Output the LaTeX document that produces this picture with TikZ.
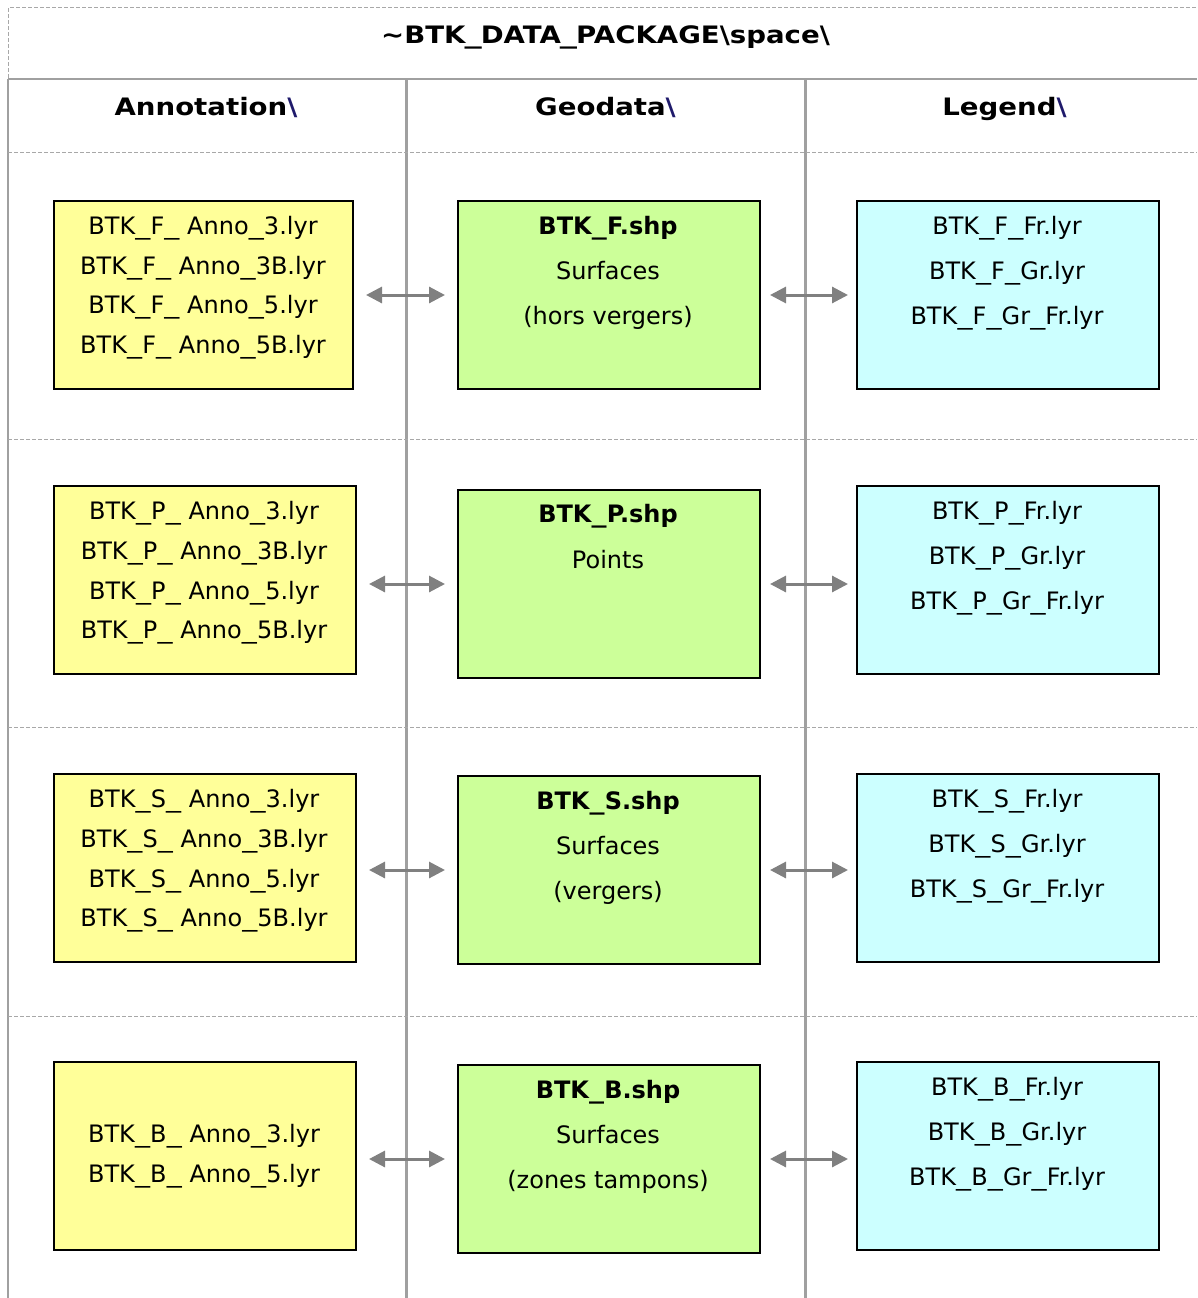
\documentclass[tikz,border=0pt]{standalone}
\usepackage{fontspec}
\setmainfont{DejaVu Sans}
\newfontfamily\hdrfont[FakeStretch=1.15]{DejaVu Sans}
\usetikzlibrary{arrows.meta,calc}

\definecolor{annofill}{HTML}{FFFF99}
\definecolor{geofill}{HTML}{CCFF99}
\definecolor{legfill}{HTML}{CCFFFF}
\definecolor{rulegray}{HTML}{A0A0A0}
\definecolor{dashgray}{HTML}{A8A8A8}
\definecolor{arrowgray}{HTML}{808080}
\definecolor{slashblue}{HTML}{1F1A6B}

% wide underscore and backslash helpers
\newcommand{\us}{\makebox[0.636em]{\scalebox{1.25}[1]{\_}}}
\newcommand{\bs}{\textbackslash}

\begin{document}
\begin{tikzpicture}[x=1pt,y=-1pt,
  font=\fontsize{24}{29}\selectfont,
  filebox/.style={draw=black,line width=2pt,inner sep=0pt,anchor=north west,
                  minimum width=302pt,minimum height=188pt},
  anno/.style={filebox,fill=annofill},
  geo/.style={filebox,fill=geofill},
  leg/.style={filebox,fill=legfill},
  txt/.style={inner sep=0pt,text height=17.5pt,text depth=0pt,anchor=center},
  hdr/.style={txt,font=\fontsize{24}{29}\hdrfont\bfseries},
  gridline/.style={draw=rulegray},
  dashline/.style={draw=dashgray,line width=1pt,dash pattern=on 4pt off 2pt},
  link/.style={draw=arrowgray,line width=3pt,
    {Triangle[length=16pt,width=16pt]}-{Triangle[length=16pt,width=16pt]}},
  linkL/.style={link,shorten <=12pt,shorten >=12pt},
  linkR/.style={link,shorten <=9pt,shorten >=8pt}]

\useasboundingbox (0,0) rectangle (1197,1298);

% table frame
\draw[dashline] (8,78) -- (8,8) -- (1197,8);
\draw[gridline,line width=2pt] (8,79) -- (1197,79);
\draw[gridline,line width=2pt] (8,79) -- (8,1298);
\draw[gridline,line width=3pt] (406,79) -- (406,1298);
\draw[gridline,line width=3pt] (805,79) -- (805,1298);
\foreach \yy in {152,439,727,1016}
  \draw[dashline] (8,\yy) -- (1197,\yy);

% title and column headers
\node[hdr] (title) at (605.5,35) {\textasciitilde BTK\us DATA\us PACKAGE\bs space\bs};
\node[hdr] (hAnno) at (206,107) {Annotation\textcolor{slashblue}{\bs}};
\node[hdr] (hGeo) at (605.5,107) {Geodata\textcolor{slashblue}{\bs}};
\node[hdr] (hLeg) at (1004.5,107) {Legend\textcolor{slashblue}{\bs}};

% boxes
\node[anno,minimum width=299pt] (y1) at (53,200) {};
\node[geo] (g1) at (457,200) {};
\node[leg] (c1) at (856,200) {};
\node[anno] (y2) at (53,485) {};
\node[geo] (g2) at (457,489) {};
\node[leg] (c2) at (856,485) {};
\node[anno] (y3) at (53,773) {};
\node[geo] (g3) at (457,775) {};
\node[leg] (c3) at (856,773) {};
\node[anno] (y4) at (53,1061) {};
\node[geo] (g4) at (457,1064) {};
\node[leg] (c4) at (856,1061) {};

% row F
\node[txt] (y1a) at (203,226) {BTK\us F\us\ Anno\us 3.lyr};
\node[txt] (y1b) at (203,266) {BTK\us F\us\ Anno\us 3B.lyr};
\node[txt] (y1c) at (203,305) {BTK\us F\us\ Anno\us 5.lyr};
\node[txt] (y1d) at (203,345) {BTK\us F\us\ Anno\us 5B.lyr};
\node[txt] (g1a) at (608,226) {\bfseries BTK\us F.shp};
\node[txt] (g1b) at (608,271) {Surfaces};
\node[txt] (g1c) at (608,316) {(hors vergers)};
\node[txt] (c1a) at (1007,226) {BTK\us F\us Fr.lyr};
\node[txt] (c1b) at (1007,271) {BTK\us F\us Gr.lyr};
\node[txt] (c1c) at (1007,316) {BTK\us F\us Gr\us Fr.lyr};

% row P
\node[txt] (y2a) at (204,511) {BTK\us P\us\ Anno\us 3.lyr};
\node[txt] (y2b) at (204,551) {BTK\us P\us\ Anno\us 3B.lyr};
\node[txt] (y2c) at (204,591) {BTK\us P\us\ Anno\us 5.lyr};
\node[txt] (y2d) at (204,630) {BTK\us P\us\ Anno\us 5B.lyr};
\node[txt] (g2a) at (608,514) {\bfseries BTK\us P.shp};
\node[txt] (g2b) at (608,560) {Points};
\node[txt] (c2a) at (1007,511) {BTK\us P\us Fr.lyr};
\node[txt] (c2b) at (1007,556) {BTK\us P\us Gr.lyr};
\node[txt] (c2c) at (1007,601) {BTK\us P\us Gr\us Fr.lyr};

% row S
\node[txt] (y3a) at (204,799) {BTK\us S\us\ Anno\us 3.lyr};
\node[txt] (y3b) at (204,839) {BTK\us S\us\ Anno\us 3B.lyr};
\node[txt] (y3c) at (204,879) {BTK\us S\us\ Anno\us 5.lyr};
\node[txt] (y3d) at (204,918) {BTK\us S\us\ Anno\us 5B.lyr};
\node[txt] (g3a) at (608,801) {\bfseries BTK\us S.shp};
\node[txt] (g3b) at (608,846) {Surfaces};
\node[txt] (g3c) at (608,891) {(vergers)};
\node[txt] (c3a) at (1007,799) {BTK\us S\us Fr.lyr};
\node[txt] (c3b) at (1007,844) {BTK\us S\us Gr.lyr};
\node[txt] (c3c) at (1007,889) {BTK\us S\us Gr\us Fr.lyr};

% row B
\node[txt] (y4a) at (204,1134) {BTK\us B\us\ Anno\us 3.lyr};
\node[txt] (y4b) at (204,1174) {BTK\us B\us\ Anno\us 5.lyr};
\node[txt] (g4a) at (608,1090) {\bfseries BTK\us B.shp};
\node[txt] (g4b) at (608,1135) {Surfaces};
\node[txt] (g4c) at (608,1180) {(zones tampons)};
\node[txt] (c4a) at (1007,1087) {BTK\us B\us Fr.lyr};
\node[txt] (c4b) at (1007,1132) {BTK\us B\us Gr.lyr};
\node[txt] (c4c) at (1007,1177) {BTK\us B\us Gr\us Fr.lyr};

% links between annotation, geodata and legend files
\draw[linkL] (y1.east |- g1.west) -- (g1.west);
\draw[linkR] (g1.east) -- (c1.west |- g1.east);
\draw[linkL] (y2.east |- g2.west) -- (g2.west);
\draw[linkR] (g2.east) -- (c2.west |- g2.east);
\draw[linkL] (y3.east |- g3.west) -- (g3.west);
\draw[linkR] (g3.east) -- (c3.west |- g3.east);
\draw[linkL] (y4.east |- g4.west) -- (g4.west);
\draw[linkR] (g4.east) -- (c4.west |- g4.east);

\end{tikzpicture}
\end{document}
